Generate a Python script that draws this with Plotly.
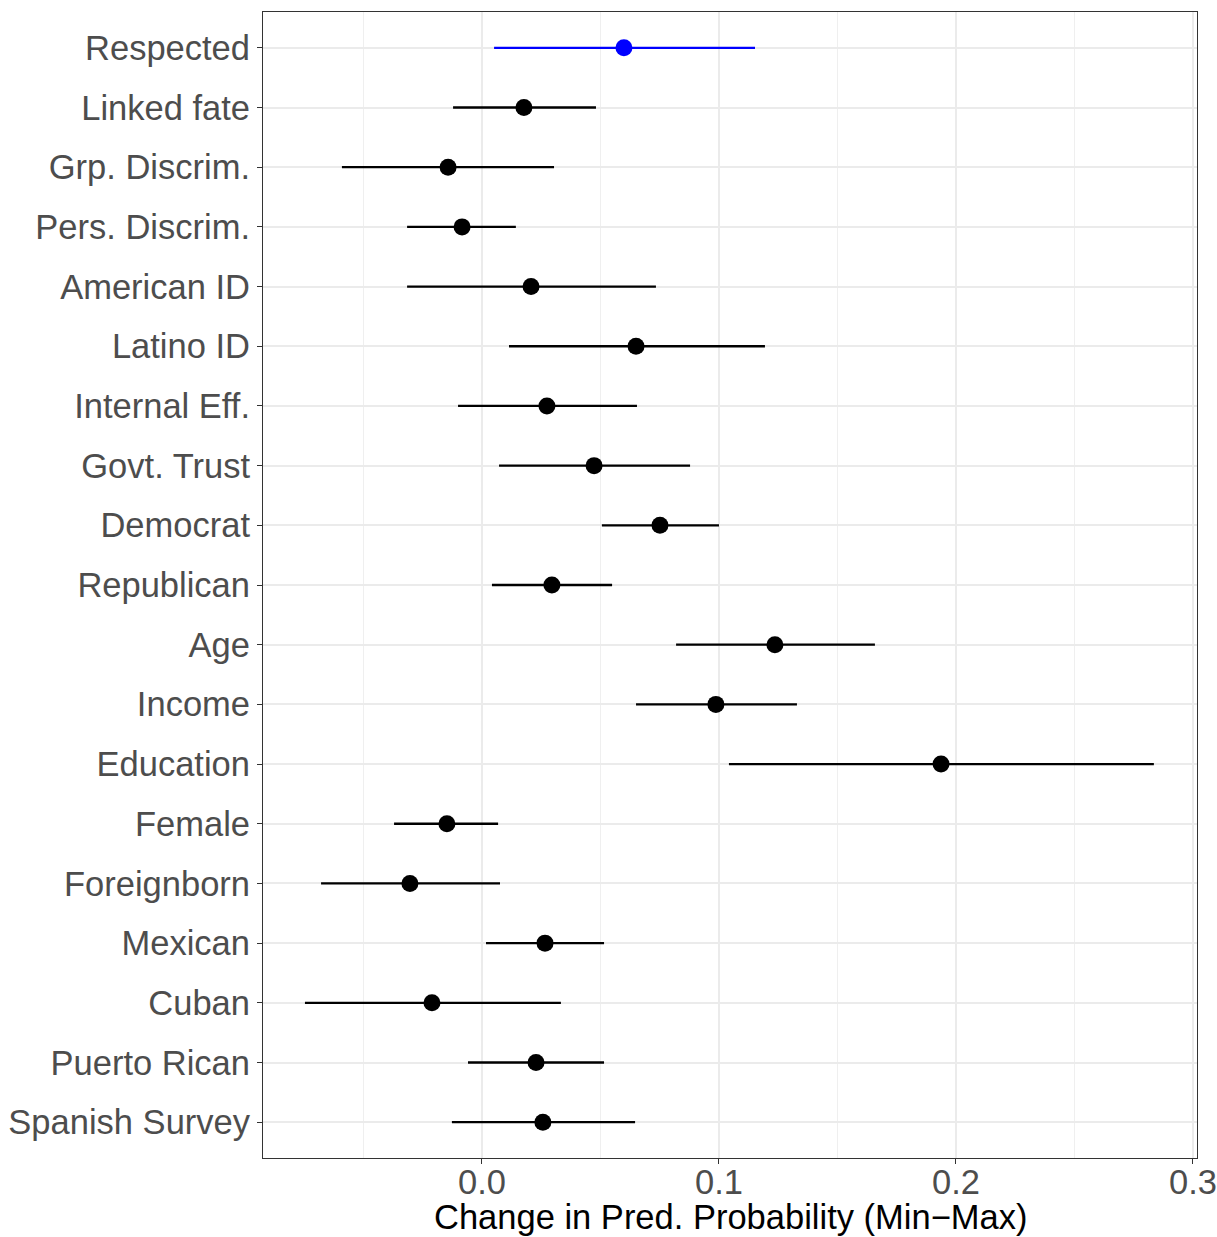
import plotly.graph_objects as go

labels = ["Respected", "Linked fate", "Grp. Discrim.", "Pers. Discrim.", "American ID",
          "Latino ID", "Internal Eff.", "Govt. Trust", "Democrat", "Republican", "Age",
          "Income", "Education", "Female", "Foreignborn", "Mexican", "Cuban",
          "Puerto Rican", "Spanish Survey"]
estimate = [0.0599, 0.0177, -0.0143, -0.0084, 0.0207, 0.0650, 0.0274, 0.0473, 0.0751,
            0.0295, 0.1236, 0.0987, 0.1937, -0.0148, -0.0304, 0.0266, -0.0211, 0.0228, 0.0257]
lower = [0.0051, -0.0122, -0.0591, -0.0316, -0.0316, 0.0114, -0.0101, 0.0072, 0.0506,
         0.0042, 0.0819, 0.0650, 0.1042, -0.0371, -0.0679, 0.0017, -0.0747, -0.0059, -0.0127]
upper = [0.1152, 0.0481, 0.0304, 0.0143, 0.0734, 0.1194, 0.0654, 0.0878, 0.1000,
         0.0549, 0.1658, 0.1329, 0.2835, 0.0068, 0.0076, 0.0515, 0.0333, 0.0515, 0.0646]
highlight = ["Respected"]
x_ticks = [0.0, 0.1, 0.2, 0.3]
x_ticklabels = ["0.0", "0.1", "0.2", "0.3"]
x_title = "Change in Pred. Probability (Min\u2212Max)"

fig = go.Figure()

def add_group(sel, color):
    xs = [estimate[i] for i in sel]
    ys = [labels[i] for i in sel]
    plus = [upper[i] - estimate[i] for i in sel]
    minus = [estimate[i] - lower[i] for i in sel]
    fig.add_trace(go.Scatter(
        x=xs, y=ys, mode="markers",
        marker=dict(color=color, size=17, line=dict(width=0)),
        error_x=dict(type="data", array=plus, arrayminus=minus, symmetric=False,
                     color=color, thickness=2.3, width=0),
        showlegend=False, cliponaxis=False))

black_idx = [i for i, l in enumerate(labels) if l not in highlight]
blue_idx = [i for i, l in enumerate(labels) if l in highlight]
add_group(black_idx, "black")
add_group(blue_idx, "#0000FF")

fig.add_shape(type="line", xref="x", yref="paper", x0=0, x1=0, y0=0, y1=1,
              line=dict(color="#BEBEBE", width=2, dash="8px,5px"), layer="below")

# x tick labels placed as annotations (closer to the axis, like ggplot)
for v, t in zip(x_ticks, x_ticklabels):
    fig.add_annotation(x=v, xref="x", y=0, yref="paper", text=t, showarrow=False,
                       xanchor="center", yanchor="middle", yshift=-24, borderpad=0,
                       font=dict(size=34.5, color="#4D4D4D"))

fig.add_annotation(x=0.5, xref="paper", y=0, yref="paper", text=x_title, showarrow=False,
                   xanchor="center", yanchor="middle", yshift=-59, borderpad=0,
                   font=dict(size=34.5, color="black"))

fig.update_layout(
    width=1217, height=1237,
    margin=dict(l=263, r=20, t=12, b=79),
    paper_bgcolor="white", plot_bgcolor="white",
    font=dict(family="Liberation Sans, Arial, sans-serif", size=34.5, color="black"),
    xaxis=dict(
        automargin=False,
        range=[-0.0924, 0.3017], tickmode="array", tickvals=x_ticks, ticktext=x_ticklabels,
        showticklabels=False,
        showgrid=True, gridcolor="#EBEBEB", gridwidth=2,
        minor=dict(tickmode="linear", tick0=0, dtick=0.05, showgrid=True,
                   gridcolor="#EFEFEF", gridwidth=1, ticks=""),
        zeroline=False, showline=True, linecolor="#333333", linewidth=1.2, mirror=True,
        ticks="outside", ticklen=5, tickcolor="#333333", tickwidth=1.2,
    ),
    yaxis=dict(
        automargin=False,
        type="category", categoryorder="array", categoryarray=labels[::-1],
        range=[-0.6, 18.6],
        showgrid=True, gridcolor="#EBEBEB", gridwidth=2,
        zeroline=False, showline=True, linecolor="#333333", linewidth=1.2, mirror=True,
        ticks="outside", ticklen=5, tickcolor="#333333", tickwidth=1.2,
        tickfont=dict(size=34.5, color="#4D4D4D"),
    ),
)

fig.write_html("out.html")
